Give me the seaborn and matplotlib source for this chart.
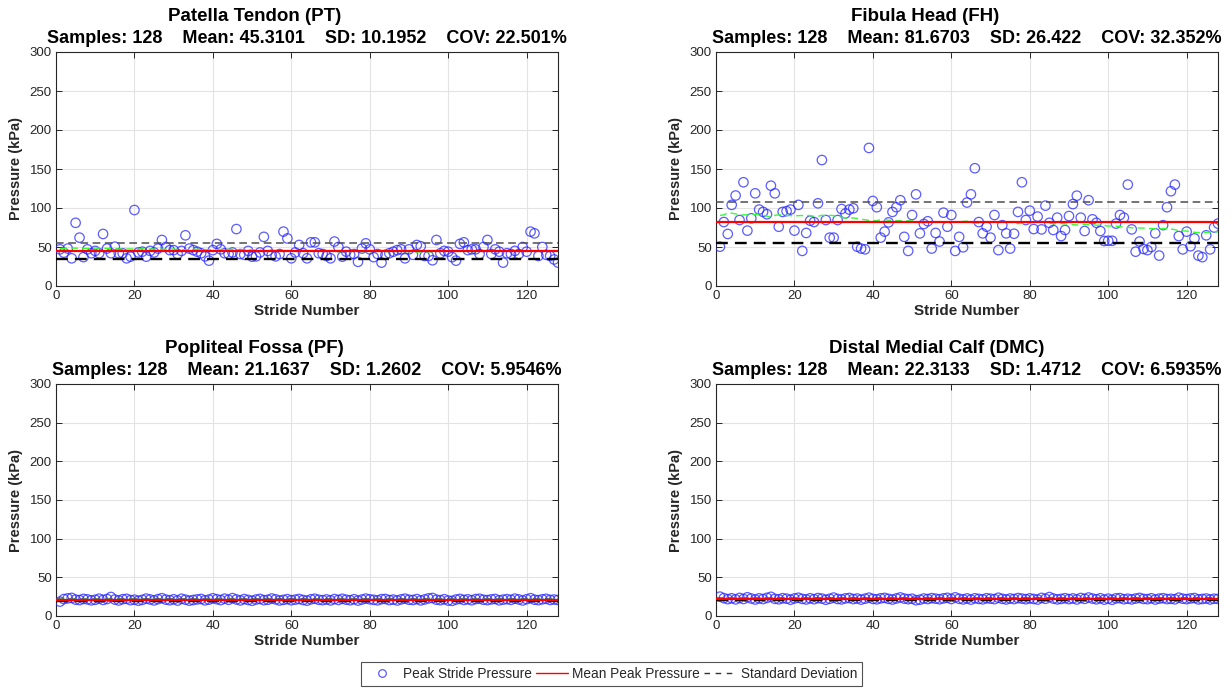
import numpy as np
import pandas as pd
import matplotlib
matplotlib.use("Agg")
import matplotlib.pyplot as plt
from matplotlib.lines import Line2D
from matplotlib.transforms import offset_copy
import seaborn as sns

# ---- data -------------------------------------------------------------
panel_names = ["Patella Tendon (PT)", "Fibula Head (FH)",
               "Popliteal Fossa (PF)", "Distal Medial Calf (DMC)"]
sample_counts = [128, 128, 128, 128]
mean_values = [45.3101, 81.6703, 21.1637, 22.3133]
sd_values = [10.1952, 26.422, 1.2602, 1.4712]
cov_values = [22.501, 32.352, 5.9546, 6.5935]

stride = np.arange(1, 129)

pt_pressure = [
    47, 42.7, 48, 35.5, 81, 62, 37, 47, 42, 45, 42, 66.7, 48, 42, 50.4, 42, 42, 35.5, 37.6, 97.4,
    43, 44, 37.6, 45, 43, 48, 59, 50, 46, 46, 41, 45, 65, 48, 46, 44, 42, 38, 32.5, 46,
    54, 47, 42, 41, 43, 73, 41, 40, 45, 37.6, 38, 43, 63, 45, 40, 38, 41, 69.7, 61, 35.5,
    43, 52.6, 42, 35.5, 56, 56, 42, 41, 38.5, 35.5, 57, 50, 37.6, 44, 40, 41, 31, 48, 54.7, 47,
    37, 41, 30, 40, 42, 44, 46, 47, 35.5, 47, 40, 52.6, 51, 38.5, 38.5, 33, 59, 42, 45, 44,
    37, 32.5, 54, 56, 46, 47, 47, 41, 50, 59, 41, 47, 44, 30, 42, 41, 45, 41, 50, 44,
    69.7, 67.5, 38.5, 50, 40, 38.5, 34, 30]

fh_pressure = [
    50.4, 82, 66.7, 104, 116, 84.6, 133, 71, 86.8, 118.8, 98, 95, 92, 128.6, 118.8, 76, 95, 96, 98, 71,
    104, 45, 68, 83.7, 82, 106, 161.5, 84.6, 62, 62, 84.6, 98.7, 93, 98, 99.6, 50.4, 48, 47, 177, 109,
    101, 62, 69.7, 81.6, 95, 101, 110, 63, 45, 91, 117.5, 67.5, 79.5, 83, 48, 68, 57, 94, 76, 91,
    45, 63, 49.6, 107, 117.5, 151, 82, 67.5, 76, 62, 91, 46, 78, 67.5, 48, 67, 95, 133, 84.6, 96.6,
    73, 89, 72.6, 103, 81, 71.8, 87.6, 64, 71.8, 89.7, 105, 115.8, 87.6, 70.5, 110, 85.5, 81, 70.5, 57.7, 58,
    58, 80, 91, 87.6, 130, 72.6, 44, 57, 47.5, 46, 50, 67.5, 39, 78, 101, 121.5, 130, 64, 47, 69.7,
    51, 61, 39, 37, 65, 47, 75, 80]

pf_pressure = [
    18.6, 21.9, 22.8, 23.4, 21.2, 20.6, 22.1, 21.5, 20.3, 21.0, 22.4, 20.8, 22.0, 24.6, 21.3, 20.1, 21.7, 22.2, 20.5, 21.1,
    19.8, 20.9, 22.5, 21.4, 20.2, 21.8, 23.0, 21.2, 20.4, 21.6, 20.0, 22.3, 21.1, 19.9, 20.7, 21.5, 22.0, 20.3, 21.2, 22.9,
    21.7, 20.6, 22.4, 21.0, 23.1, 21.4, 20.2, 21.9, 20.8, 19.7, 21.3, 22.1, 20.5, 21.0, 22.6, 21.5, 20.1, 20.9, 21.8, 20.4,
    21.2, 22.0, 20.7, 19.9, 21.6, 22.3, 21.0, 20.5, 21.4, 20.2, 21.9, 20.8, 22.2, 21.1, 20.4, 21.7, 20.0, 21.3, 22.5, 21.6,
    20.9, 20.3, 21.8, 22.0, 20.6, 21.2, 20.1, 21.5, 22.4, 21.0, 20.7, 21.9, 20.2, 21.4, 22.8, 23.3, 21.1, 20.5, 21.7, 20.0,
    19.6, 21.3, 22.1, 20.8, 21.6, 20.4, 21.9, 22.3, 21.0, 20.6, 21.5, 22.0, 20.3, 21.2, 21.8, 20.9, 22.4, 21.4, 20.1, 21.7,
    23.0, 21.1, 20.5, 21.6, 22.2, 20.8, 21.3, 20.7]

dmc_pressure = [
    25.0, 23.1, 21.8, 22.9, 21.5, 23.4, 22.0, 24.2, 22.6, 21.3, 22.8, 21.9, 23.5, 24.8, 22.2, 21.6, 23.0, 22.4, 21.1, 22.7,
    23.6, 22.1, 21.4, 22.9, 21.7, 23.2, 22.5, 21.0, 22.3, 23.8, 22.0, 21.5, 22.8, 23.3, 21.9, 22.6, 21.2, 22.4, 23.7, 22.1,
    21.6, 22.9, 23.4, 22.2, 21.3, 22.7, 24.0, 22.5, 21.8, 22.3, 20.4, 21.1, 22.6, 21.9, 23.1, 22.4, 21.7, 22.8, 23.5, 22.0,
    24.1, 22.3, 21.5, 22.7, 21.2, 22.9, 22.1, 21.6, 23.0, 22.4, 21.8, 23.6, 22.2, 21.4, 22.6, 21.9, 23.2, 22.5, 21.7, 22.8,
    22.0, 21.3, 23.4, 22.3, 24.5, 22.6, 21.5, 22.1, 23.0, 21.8, 22.7, 21.4, 23.3, 22.2, 23.9, 22.5, 21.6, 22.9, 21.2, 22.4,
    21.0, 22.8, 23.1, 21.7, 22.3, 21.5, 22.6, 23.4, 22.1, 21.8, 22.9, 21.3, 22.5, 23.0, 21.9, 22.2, 21.6, 23.7, 22.4, 21.8,
    22.7, 23.2, 21.5, 22.0, 22.6, 21.4, 22.3, 22.1]

pressures = [pt_pressure, fh_pressure, pf_pressure, dmc_pressure]

x_ticks = [0, 20, 40, 60, 80, 100, 120]
y_ticks = [0, 50, 100, 150, 200, 250, 300]

# ---- style ------------------------------------------------------------
sns.set_theme(style="whitegrid")
plt.rcParams["font.family"] = ["Liberation Sans", "DejaVu Sans"]
plt.rcParams["xtick.direction"] = "in"
plt.rcParams["ytick.direction"] = "in"

dark = "#262626"
marker_edge = (0.15, 0.15, 1.0, 0.75)
W, H = 1232, 689
fig = plt.figure(figsize=(W / 100, H / 100), dpi=100)
fig.patch.set_facecolor("white")

# axes boxes in pixels: left, top, right, bottom
boxes = [(56, 52, 558, 286), (716, 52, 1218, 286),
         (56, 384, 558, 616), (716, 384, 1218, 616)]
# horizontal shift (points) of each panel's name line
name_shift = [-38, -30, -38, -22]

for k, (l, t, r, b) in enumerate(boxes):
    ax = fig.add_axes([l / W, 1 - b / H, (r - l) / W, (b - t) / H])
    values = np.asarray(pressures[k], dtype=float)
    df = pd.DataFrame({"stride": stride, "pressure": values})
    # moving-average trend of the peak pressures
    df["trend"] = df["pressure"].rolling(50, center=True, min_periods=1).mean()

    mu, sd = mean_values[k], sd_values[k]

    sns.scatterplot(data=df, x="stride", y="pressure", ax=ax, marker="o", s=46,
                    facecolor="none", edgecolor=marker_edge, linewidth=0.9,
                    zorder=3, legend=False)
    ax.axhline(mu + sd, color="#4d4d4d", lw=1.1, ls=(0, (5, 3)), zorder=4)
    ax.axhline(mu - sd, color="black", lw=1.7, ls=(0, (5, 3)), zorder=4)
    sns.lineplot(data=df, x="stride", y="trend", ax=ax, color="#33ff33",
                 lw=1.0, linestyle=(0, (5, 3)), zorder=5, legend=False)
    ax.axhline(mu, color="red", lw=1.6, zorder=6)

    ax.set_xlim(0, 128)
    ax.set_ylim(0, 300)
    ax.set_xticks(x_ticks)
    ax.set_yticks(y_ticks)
    ax.grid(True, color="#e3e3e3", lw=0.8)
    ax.set_facecolor("white")
    for sp in ax.spines.values():
        sp.set_color(dark)
        sp.set_linewidth(0.8)
    ax.tick_params(axis="both", which="both", direction="in", length=4, width=0.7,
                   color=dark, labelcolor=dark, labelsize=9.5, top=True, right=True,
                   bottom=True, left=True, pad=3)
    ax.set_xlabel("Stride Number", fontsize=11, fontweight="bold", color=dark, labelpad=1)
    ax.set_ylabel("Pressure (kPa)", fontsize=10.5, fontweight="bold", color=dark, labelpad=5)

    stats = (f"Samples: {sample_counts[k]}    Mean: {mean_values[k]:g}    "
             f"SD: {sd_values[k]:g}    COV: {cov_values[k]:g}%")
    name_tr = offset_copy(ax.transAxes, fig=fig, x=name_shift[k], y=0, units="points")
    ax.text(0.5, 1.115, panel_names[k], transform=name_tr, ha="center",
            va="bottom", fontsize=13.5, fontweight="bold", color="black")
    ax.text(0.5, 1.022, stats, transform=ax.transAxes, ha="center",
            va="bottom", fontsize=13, fontweight="bold", color="black")

handles = [
    Line2D([], [], ls="none", marker="o", mfc="none", mec=marker_edge, ms=5.5, mew=0.9),
    Line2D([], [], color="red", lw=1.0),
    Line2D([], [], color="#333333", lw=1.0, ls=(0, (4, 4))),
]
labels = ["Peak Stride Pressure", "Mean Peak Pressure", "Standard Deviation"]
leg = fig.legend(handles, labels, loc="center", bbox_to_anchor=(611.5 / W, 1 - 674 / H),
                 ncol=3, frameon=True, fontsize=9.8, handlelength=2.4, handletextpad=0.3,
                 columnspacing=0.3, borderpad=0.35, fancybox=False)
leg.get_frame().set_edgecolor("#262626")
leg.get_frame().set_linewidth(0.8)

fig.savefig("out.png", dpi=100, facecolor="white")
